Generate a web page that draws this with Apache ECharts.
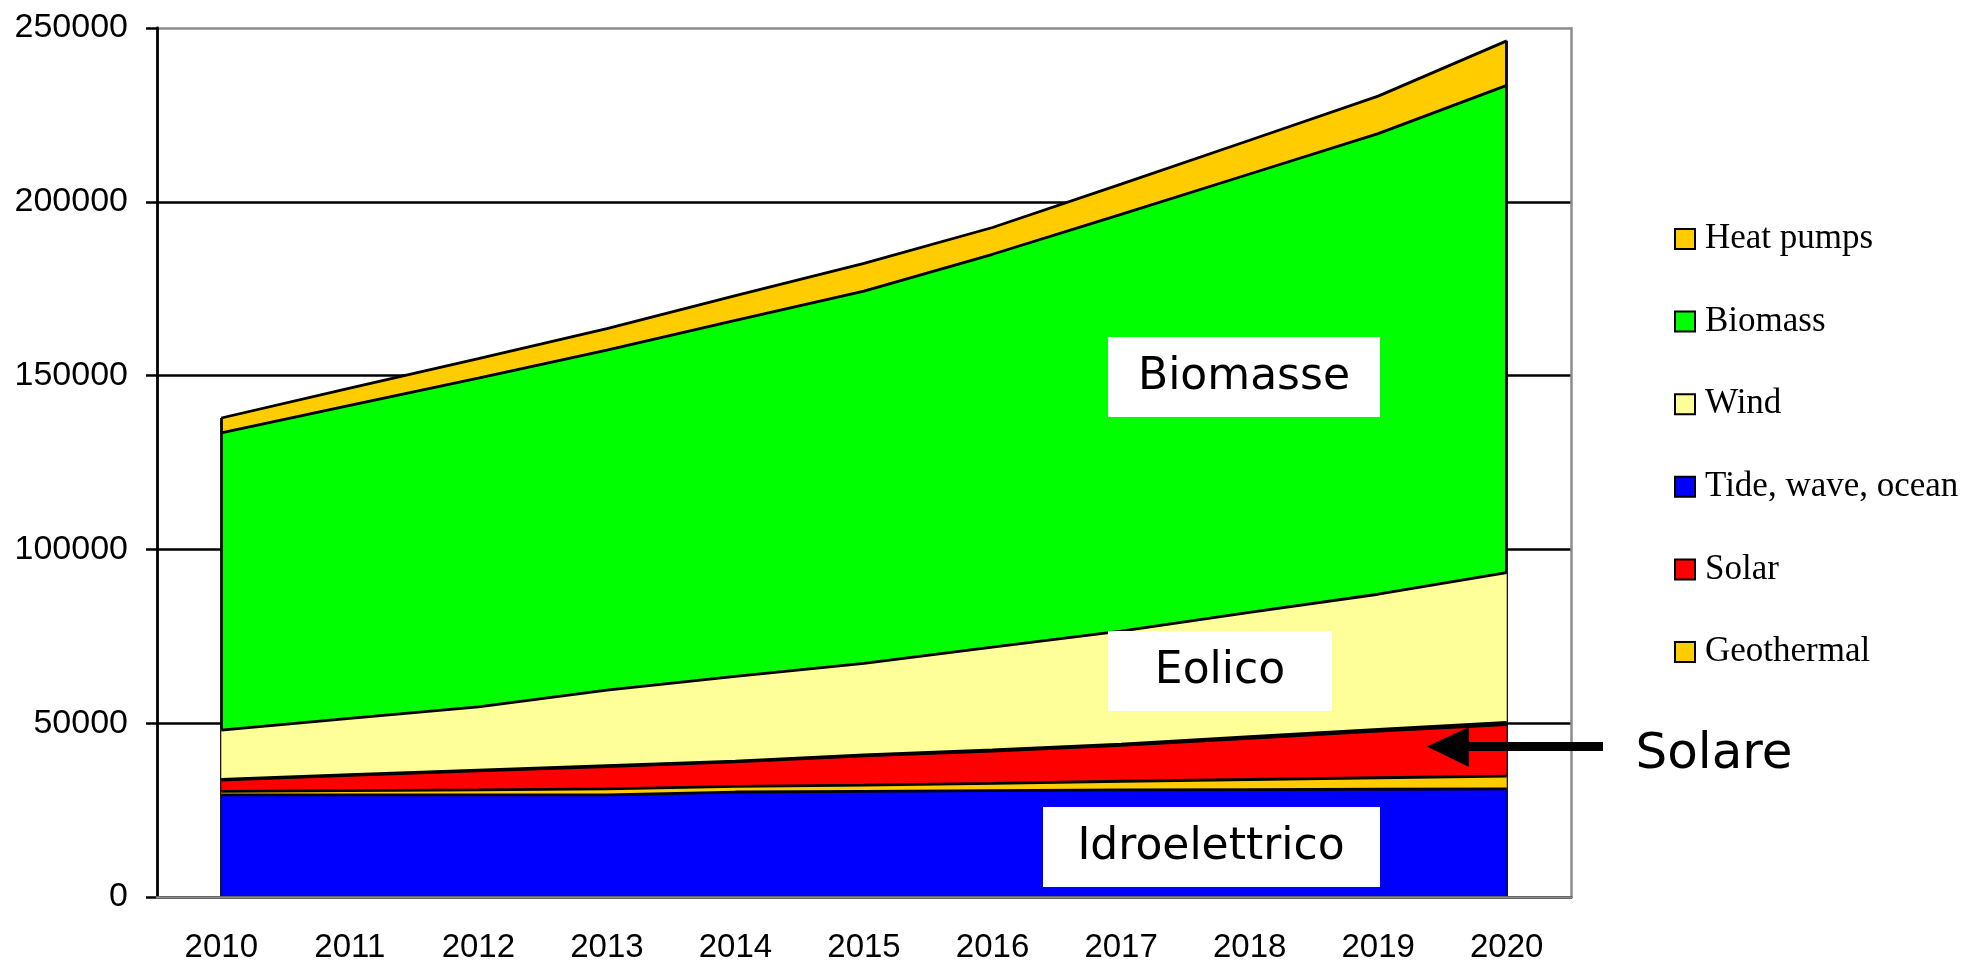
<!DOCTYPE html>
<html>
<head>
<meta charset="utf-8">
<script src="https://cdn.jsdelivr.net/npm/echarts@6/dist/echarts.min.js"></script>
<style>
  html, body { margin: 0; padding: 0; background: #fff; }
</style>
</head>
<body>
<div id="main" style="width: 1968px;height:966px;"></div>
<script type="text/javascript">
    // dati (valori per anno, non cumulati)
    var years = ['2010', '2011', '2012', '2013', '2014', '2015', '2016', '2017', '2018', '2019', '2020'];
    var hydro = [29400, 29400, 29400, 29400, 30200, 30400, 30600, 30800, 30900, 31000, 31100];
    var geothermal = [1000, 1200, 1400, 1700, 1600, 1800, 2100, 2500, 2900, 3300, 3700];
    var solar = [3250, 4400, 5500, 6450, 7050, 8400, 9250, 10300, 11850, 13400, 14800];
    var tide = [200, 200, 200, 250, 250, 300, 350, 400, 450, 500, 600];
    var wind = [14150, 16200, 18200, 21700, 24400, 26300, 29600, 32500, 35800, 38900, 43100];
    var biomass = [85500, 90000, 94600, 97800, 102400, 107100, 113000, 119900, 126100, 132500, 140200];
    var heatPumps = [4300, 5000, 5600, 6200, 7100, 8000, 7700, 8700, 9700, 10800, 12800];
    var yTicks = [0, 50000, 100000, 150000, 200000, 250000];

    var myChart = echarts.init(document.getElementById('main'));

    function total(i) {
        return hydro[i] + geothermal[i] + solar[i] + tide[i] + wind[i] + biomass[i] + heatPumps[i];
    }
    var last = years.length - 1;

    function area(name, data, color, z) {
        return {
            name: name,
            type: 'line',
            stack: 'tot',
            data: data,
            z: z,
            symbol: 'none',
            lineStyle: { color: '#000', width: 2.8 },
            areaStyle: { color: color, opacity: 1 },
            itemStyle: { color: color },
            emphasis: { disabled: true },
            silent: true
        };
    }

    var series = [
        area('Hydro', hydro, '#0000FF', 9),
        area('Geothermal', geothermal, '#FFCC00', 8),
        area('Solar', solar, '#FF0000', 7),
        area('Tide, wave, ocean', tide, '#0000FF', 6),
        area('Wind', wind, '#FFFF99', 5),
        area('Biomass', biomass, '#00FF00', 4),
        area('Heat pumps', heatPumps, '#FFCC00', 3)
    ];
    // bordi verticali ai due estremi
    series[6].markLine = {
        silent: true,
        symbol: 'none',
        label: { show: false },
        lineStyle: { color: '#000', width: 2.8, type: 'solid' },
        data: [
            [{ coord: [years[0], 0] }, { coord: [years[0], total(0)] }],
            [{ coord: [years[last], 0] }, { coord: [years[last], total(last)] }]
        ]
    };

    var labelFont = 'Liberation Sans, Arial, sans-serif';
    var noteFont = 'DejaVu Sans, Verdana, sans-serif';

    var option = {
        animation: false,
        backgroundColor: '#fff',
        grid: { left: 157, right: 397, top: 28, bottom: 69 },
        legend: {
            orient: 'vertical',
            left: 1674,
            top: 221.5,
            padding: 0,
            itemWidth: 20,
            itemHeight: 20,
            itemGap: 47.6,
            icon: 'rect',
            selectedMode: false,
            itemStyle: { borderColor: '#000', borderWidth: 2 },
            textStyle: {
                fontFamily: 'Liberation Serif, Times New Roman, serif',
                fontSize: 35,
                color: '#000',
                padding: [0, 0, 0, 5]
            },
            data: ['Heat pumps', 'Biomass', 'Wind', 'Tide, wave, ocean', 'Solar', 'Geothermal']
        },
        xAxis: [{
            type: 'category',
            data: years,
            z: 10,
            axisLine: { lineStyle: { color: '#000', width: 2.8 } },
            axisTick: { length: 11, lineStyle: { color: '#000', width: 2.5 } },
            axisLabel: { margin: 34, fontSize: 33, fontFamily: labelFont, color: '#000' }
        }, {
            type: 'category',
            data: years,
            position: 'top',
            z: 10,
            axisLine: { lineStyle: { color: '#8c8c8c', width: 2.5 } },
            axisTick: { show: false },
            axisLabel: { show: false }
        }],
        yAxis: [{
            type: 'value',
            min: yTicks[0],
            max: yTicks[yTicks.length - 1],
            interval: yTicks[1] - yTicks[0],
            axisLine: { show: true, lineStyle: { color: '#000', width: 2.8 } },
            axisTick: { show: true, length: 11, lineStyle: { color: '#000', width: 2.5 } },
            axisLabel: {
                margin: 29, fontSize: 34, fontFamily: labelFont, color: '#000',
                formatter: function (v) { return String(v); }
            },
            splitLine: { lineStyle: { color: ['#000', '#000', '#000', '#000', '#000', '#8c8c8c'], width: 2.5 } }
        }, {
            type: 'value',
            position: 'right',
            min: yTicks[0],
            max: yTicks[yTicks.length - 1],
            interval: yTicks[1] - yTicks[0],
            axisLine: { show: true, lineStyle: { color: '#8c8c8c', width: 2.5 } },
            axisTick: { show: false },
            axisLabel: { show: false },
            splitLine: { show: false }
        }],
        series: series,
        graphic: [
            { type: 'rect', shape: { x: 1108, y: 337, width: 272, height: 80 }, style: { fill: '#fff' }, z: 50 },
            { type: 'text', x: 1244, y: 378, z: 51, style: { text: 'Biomasse', font: '44px ' + noteFont, fill: '#000', align: 'center', verticalAlign: 'middle' } },
            { type: 'rect', shape: { x: 1108, y: 631, width: 224, height: 80 }, style: { fill: '#fff' }, z: 50 },
            { type: 'text', x: 1220, y: 672, z: 51, style: { text: 'Eolico', font: '44px ' + noteFont, fill: '#000', align: 'center', verticalAlign: 'middle' } },
            { type: 'rect', shape: { x: 1043, y: 807, width: 337, height: 80 }, style: { fill: '#fff' }, z: 50 },
            { type: 'text', x: 1211, y: 848, z: 51, style: { text: 'Idroelettrico', font: '44px ' + noteFont, fill: '#000', align: 'center', verticalAlign: 'middle' } },
            { type: 'rect', shape: { x: 1468, y: 742, width: 135, height: 9 }, style: { fill: '#000' }, z: 50 },
            { type: 'polygon', shape: { points: [[1427, 746.5], [1469, 727], [1469, 767]] }, style: { fill: '#000' }, z: 50 },
            { type: 'text', x: 1714, y: 755, z: 51, style: { text: 'Solare', font: '50px ' + noteFont, fill: '#000', align: 'center', verticalAlign: 'middle' } }
        ]
    };

    myChart.setOption(option);
</script>
</body>
</html>
